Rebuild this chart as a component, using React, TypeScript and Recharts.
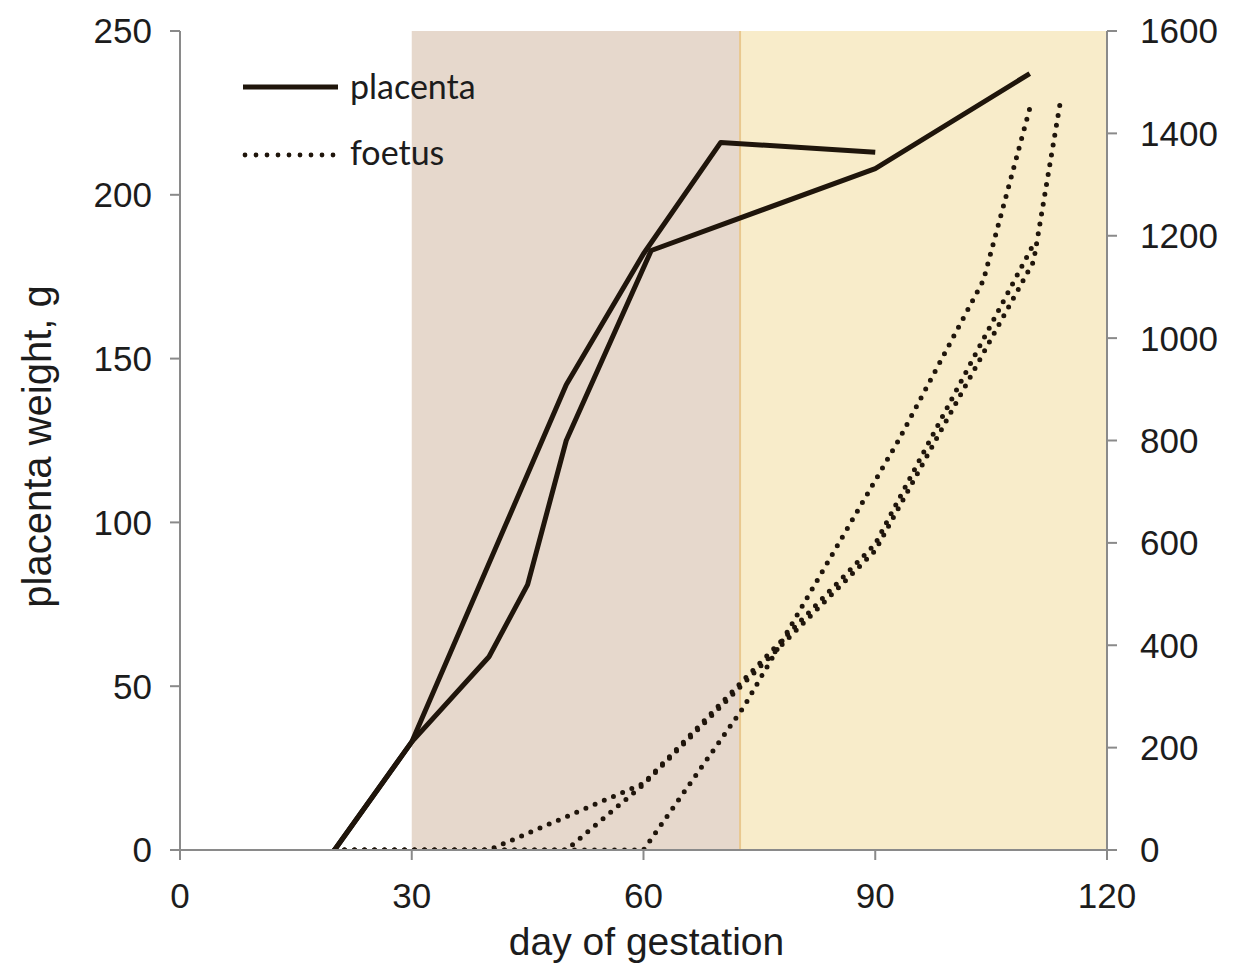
import React from 'react';
import {
  ComposedChart,
  Line,
  XAxis,
  YAxis,
  ReferenceArea,
  ReferenceLine,
  Legend,
  Label,
} from 'recharts';

// ---- tick labels ----
const xTicks = [0, 30, 60, 90, 120];
const leftTicks = [0, 50, 100, 150, 200, 250];
const rightTicks = [0, 200, 400, 600, 800, 1000, 1200, 1400, 1600];

// ---- shaded periods (day of gestation) ----
const earlyPeriod = [30, 72.5];
const latePeriod = [72.5, 120];

// ---- placenta weight, g (left axis) ----
const placentaADays = [20, 30, 50, 60, 70, 90];
const placentaAWeight = [0, 33, 142, 182, 216, 213];
const placentaBDays = [20, 30, 40, 45, 50, 61, 90, 110];
const placentaBWeight = [0, 33, 59, 81, 125, 183, 208, 237];

// ---- foetus weight, g (right axis) ----
const foetusADays = [20, 30, 40, 60, 90, 110.3];
const foetusAWeight = [0, 0, 0, 130, 598, 1178];
const foetusBDays = [20, 30, 40, 50, 60, 90, 110.5, 114];
const foetusBWeight = [0, 0, 0, 0, 128, 585, 1150, 1465];
const foetusCDays = [20, 30, 40, 50, 60, 73, 80, 93, 104, 110.2];
const foetusCWeight = [0, 0, 0, 0, 0, 280, 462, 800, 1113, 1460];

const legendNames = ['placenta', 'foetus'];

const toPoints = (days: number[], vals: number[]) =>
  days.map((d, i) => ({ x: d, y: vals[i] }));

const placentaA = toPoints(placentaADays, placentaAWeight);
const placentaB = toPoints(placentaBDays, placentaBWeight);
const foetusA = toPoints(foetusADays, foetusAWeight);
const foetusB = toPoints(foetusBDays, foetusBWeight);
const foetusC = toPoints(foetusCDays, foetusCWeight);

const INK = '#1f150b';
const AXIS = '#8a8a8a';
const FONT = '"Liberation Sans", Arial, sans-serif';
const TICK_STYLE = { fontSize: 35, fill: '#1c1c1c', fontFamily: FONT };
const DOTS = '0 10';

const YTitle = (props: any) => {
  const vb = props.viewBox || { x: 0, y: 0, width: 0, height: 0 };
  const cx = vb.x + 43;
  const cy = vb.y + vb.height / 2 + 6;
  return (
    <text
      x={cx}
      y={cy}
      transform={`rotate(-90 ${cx} ${cy})`}
      textAnchor="middle"
      fontSize={40}
      fontFamily={FONT}
      fill="#1c1c1c"
    >
      placenta weight, g
    </text>
  );
};

const XTitle = (props: any) => {
  const vb = props.viewBox || { x: 0, y: 0, width: 0, height: 0 };
  const cx = vb.x + vb.width / 2 + 3;
  const cy = vb.y + 105;
  return (
    <text x={cx} y={cy} textAnchor="middle" fontSize={39} fontFamily={FONT} fill="#1c1c1c">
      day of gestation
    </text>
  );
};

const LegendContent = () => (
  <svg width={270} height={130} style={{ display: 'block', overflow: 'visible' }}>
    <line x1={8} y1={27} x2={103} y2={27} stroke={INK} strokeWidth={5} />
    <text x={115} y={39} fontSize={34} fontFamily="Lato, 'Noto Sans', sans-serif" fill="#1c1c1c">
      {legendNames[0]}
    </text>
    <line
      x1={10}
      y1={95}
      x2={104}
      y2={95}
      stroke={INK}
      strokeWidth={4.8}
      strokeDasharray="0 11"
      strokeLinecap="round"
    />
    <text x={115} y={105} fontSize={34} fontFamily="Lato, 'Noto Sans', sans-serif" fill="#1c1c1c">
      {legendNames[1]}
    </text>
  </svg>
);

export default function App() {
  return (
    <div style={{ width: 1219, height: 960 }}>
      <ComposedChart width={1219} height={960} margin={{ top: 23, right: 0, bottom: 8, left: 0 }}>
        <XAxis
          dataKey="x"
          type="number"
          domain={[0, 120]}
          ticks={xTicks}
          height={110}
          tickSize={10}
          tickMargin={23}
          stroke={AXIS}
          strokeWidth={2}
          tick={TICK_STYLE}
          allowDataOverflow
        >
          <Label content={XTitle} />
        </XAxis>
        <YAxis
          yAxisId="left"
          orientation="left"
          domain={[0, 250]}
          ticks={leftTicks}
          width={172}
          tickSize={10}
          tickMargin={18}
          stroke={AXIS}
          strokeWidth={2}
          tick={TICK_STYLE}
          allowDataOverflow
        >
          <Label content={YTitle} />
        </YAxis>
        <YAxis
          yAxisId="right"
          orientation="right"
          domain={[0, 1600]}
          ticks={rightTicks}
          width={120}
          tickSize={10}
          tickMargin={23}
          stroke={AXIS}
          strokeWidth={2}
          tick={TICK_STYLE}
          allowDataOverflow
        />
        <ReferenceArea
          yAxisId="left"
          x1={earlyPeriod[0]}
          x2={earlyPeriod[1]}
          fill="#e6d8cc"
          fillOpacity={1}
          stroke="none"
        />
        <ReferenceArea
          yAxisId="left"
          x1={latePeriod[0]}
          x2={latePeriod[1]}
          fill="#f8ecca"
          fillOpacity={1}
          stroke="none"
        />
        <ReferenceLine yAxisId="left" x={earlyPeriod[1]} stroke="#e9c88f" strokeWidth={2} />
        <Line
          yAxisId="left"
          data={placentaA}
          dataKey="y"
          name="placenta"
          stroke={INK}
          strokeWidth={5}
          strokeLinejoin="round"
          dot={false}
          activeDot={false}
          isAnimationActive={false}
        />
        <Line
          yAxisId="left"
          data={placentaB}
          dataKey="y"
          name="placenta"
          stroke={INK}
          strokeWidth={5}
          strokeLinejoin="round"
          dot={false}
          activeDot={false}
          isAnimationActive={false}
        />
        <Line
          yAxisId="right"
          data={foetusA}
          dataKey="y"
          name="foetus"
          stroke={INK}
          strokeWidth={5}
          strokeDasharray={DOTS}
          strokeLinecap="round"
          dot={false}
          activeDot={false}
          isAnimationActive={false}
        />
        <Line
          yAxisId="right"
          data={foetusB}
          dataKey="y"
          name="foetus"
          stroke={INK}
          strokeWidth={5}
          strokeDasharray={DOTS}
          strokeLinecap="round"
          dot={false}
          activeDot={false}
          isAnimationActive={false}
        />
        <Line
          yAxisId="right"
          data={foetusC}
          dataKey="y"
          name="foetus"
          stroke={INK}
          strokeWidth={5}
          strokeDasharray={DOTS}
          strokeLinecap="round"
          dot={false}
          activeDot={false}
          isAnimationActive={false}
        />
        <Legend
          layout="vertical"
          verticalAlign="middle"
          align="center"
          content={LegendContent}
          wrapperStyle={{ position: 'absolute', left: 227, top: 52, width: 270, height: 130 }}
        />
      </ComposedChart>
    </div>
  );
}
